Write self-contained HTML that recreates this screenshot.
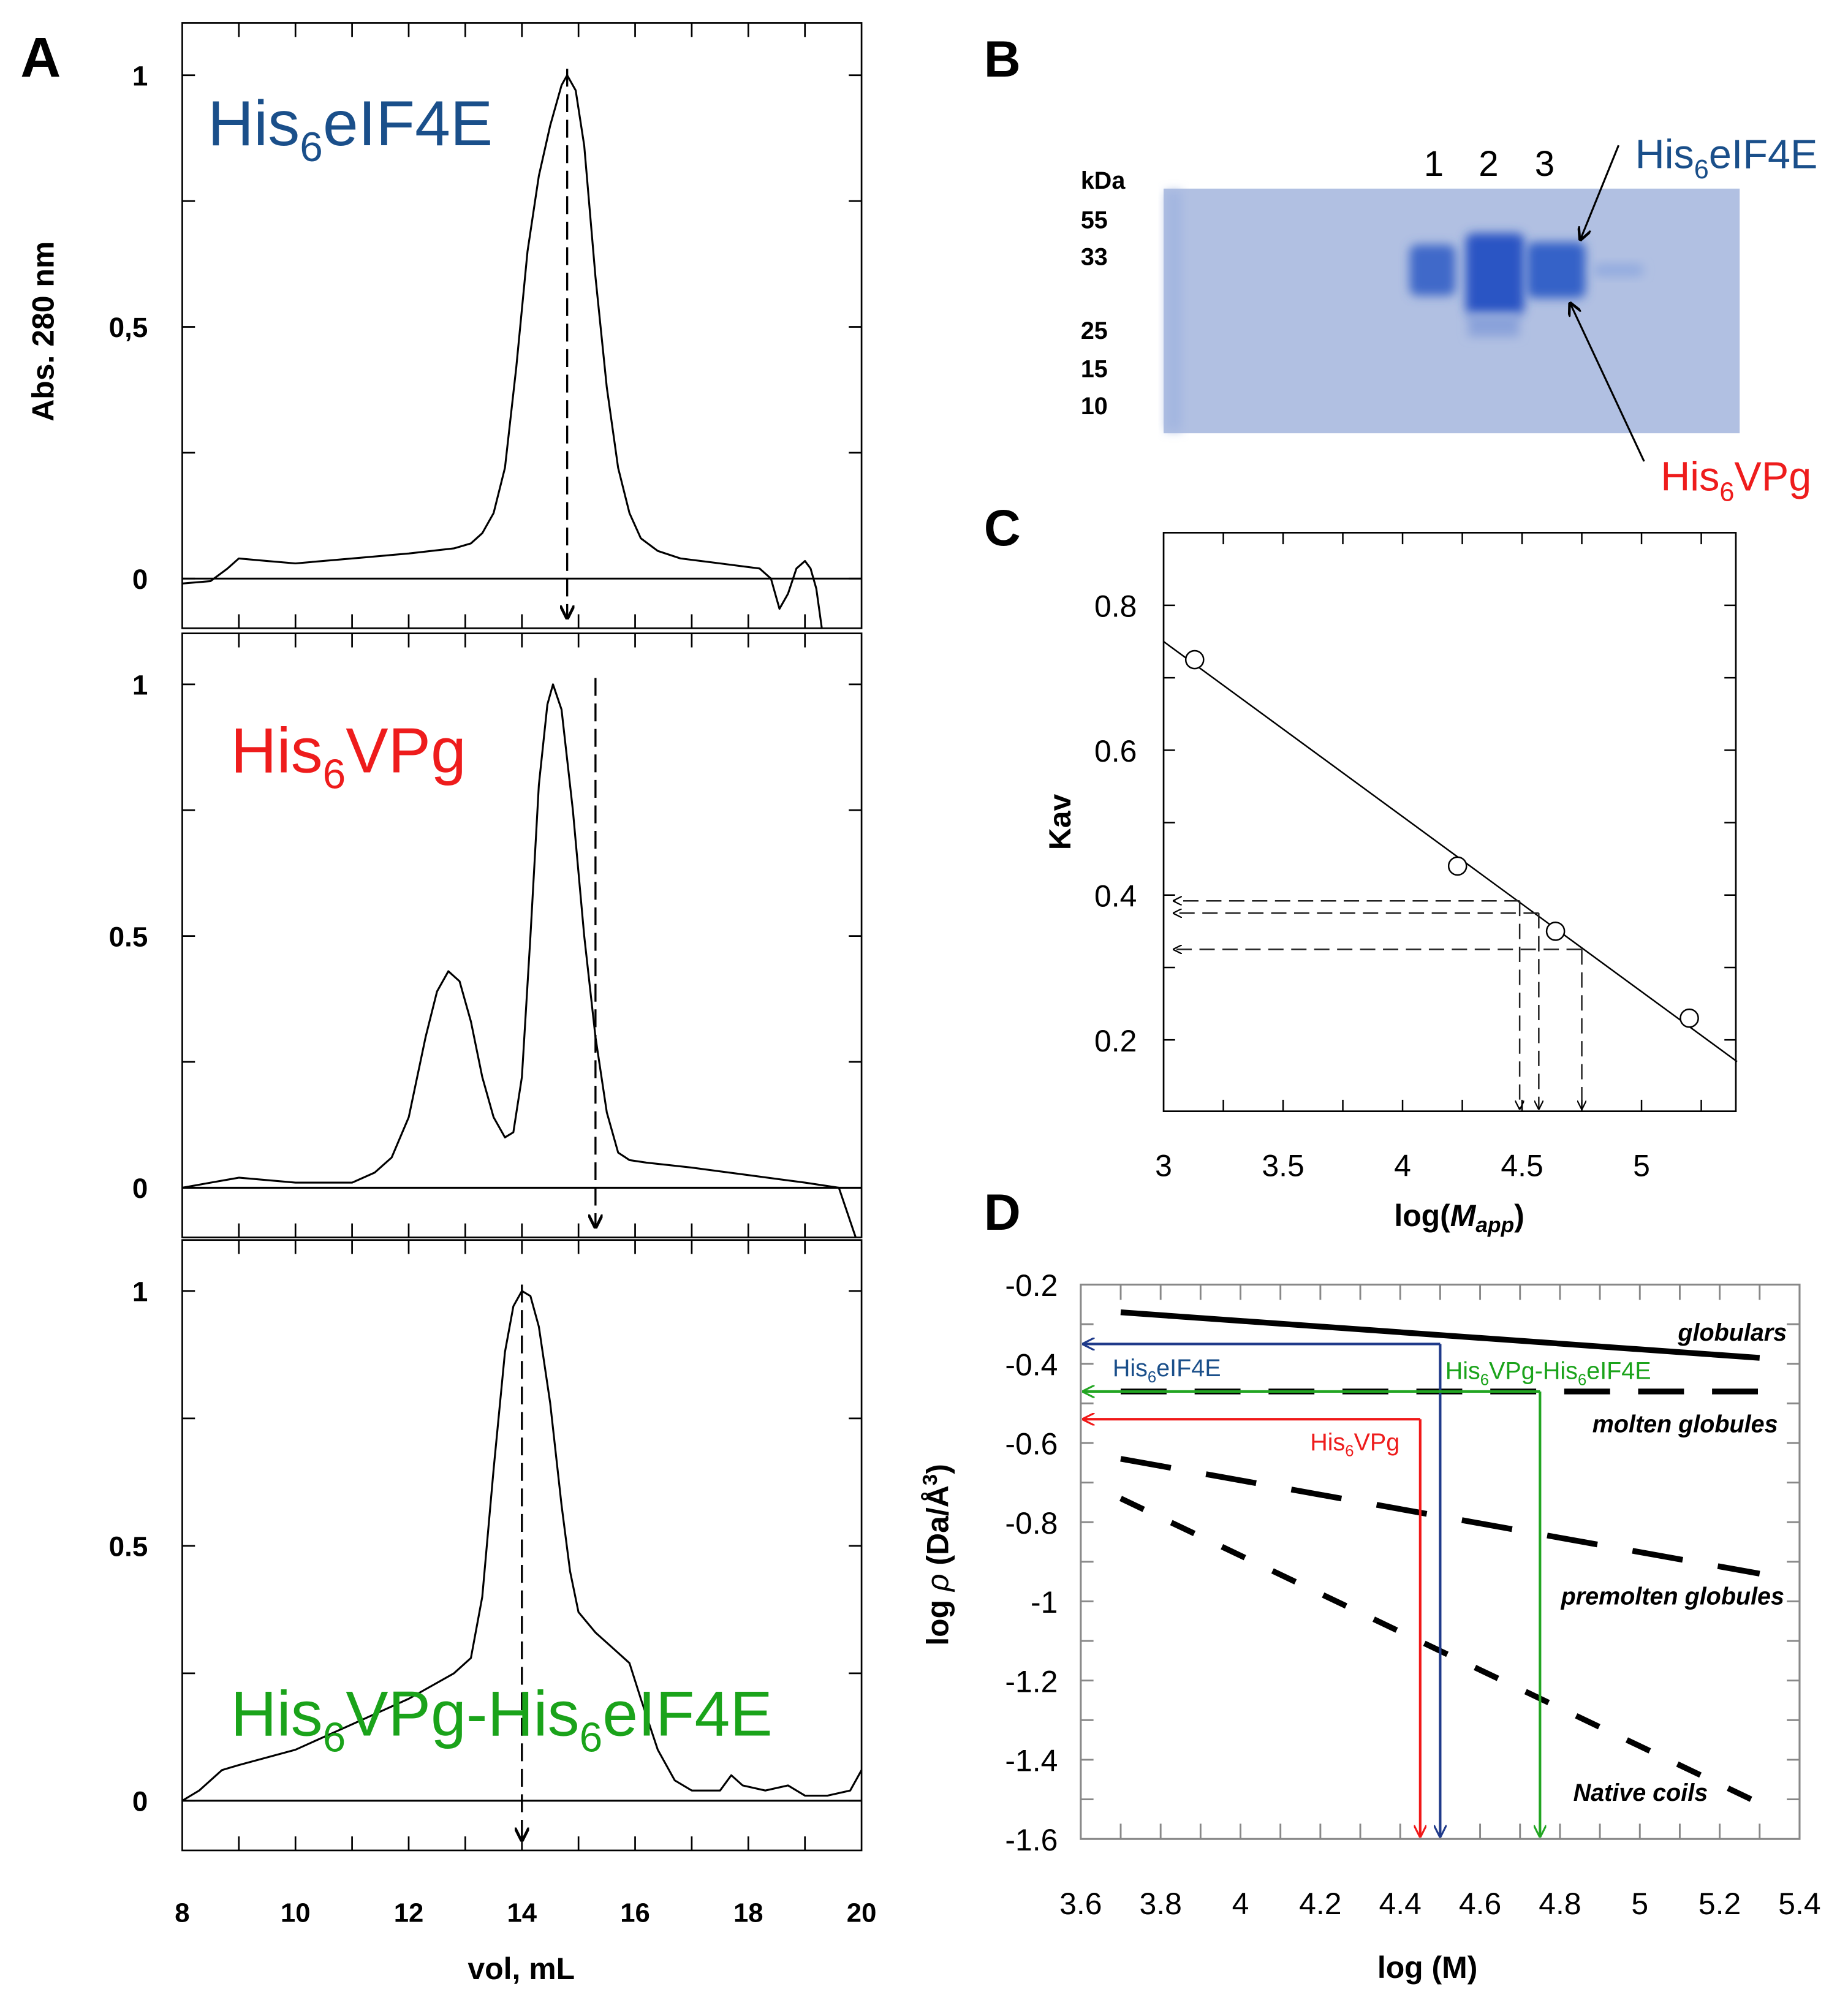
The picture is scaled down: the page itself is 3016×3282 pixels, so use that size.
<!DOCTYPE html>
<html><head><meta charset="utf-8"><style>
html,body{margin:0;padding:0;background:#fff}
svg{display:block}
text{font-family:"Liberation Sans",sans-serif}
</style></head><body>
<svg id="fig" width="3016" height="3282" viewBox="0 0 1450 1578" preserveAspectRatio="none" xmlns="http://www.w3.org/2000/svg">
<defs>
<filter id="blur" x="-50%" y="-50%" width="200%" height="200%"><feGaussianBlur stdDeviation="4"/></filter>
<marker id="ah" viewBox="0 0 10 10" refX="9" refY="5" markerWidth="6" markerHeight="6" orient="auto"><path d="M0,0 L10,5 L0,10" fill="none" stroke="#000" stroke-width="1.5"/></marker>
<marker id="ahb" viewBox="0 0 10 10" refX="9" refY="5" markerWidth="5" markerHeight="5" orient="auto"><path d="M0,0 L10,5 L0,10" fill="none" stroke="#1f3a8a" stroke-width="1.5"/></marker>
<marker id="ahg" viewBox="0 0 10 10" refX="9" refY="5" markerWidth="5" markerHeight="5" orient="auto"><path d="M0,0 L10,5 L0,10" fill="none" stroke="#22a522" stroke-width="1.5"/></marker>
<marker id="ahr" viewBox="0 0 10 10" refX="9" refY="5" markerWidth="5" markerHeight="5" orient="auto"><path d="M0,0 L10,5 L0,10" fill="none" stroke="#f01818" stroke-width="1.5"/></marker>
<marker id="ahf" viewBox="0 0 10 10" refX="9" refY="5" markerWidth="7" markerHeight="7" orient="auto"><path d="M0,0 L10,5 L0,10" fill="none" stroke="#000" stroke-width="2"/></marker>
</defs>
<g id="A"></g><g id="B"></g><g id="C"></g><g id="D"></g>
</svg>
<script>
// ---- Panel A data ----
const volTicks = [8,10,12,14,16,18,20];
const eifVol = [8,8.5,8.8,9,9.5,10,11,12,12.8,13.1,13.3,13.5,13.7,13.9,14.1,14.3,14.5,14.7,14.8,14.95,15.1,15.3,15.5,15.7,15.9,16.1,16.4,16.8,17.5,18.2,18.4,18.55,18.7,18.85,19.0,19.1,19.2,19.3];
const eifAbs = [-0.01,-0.005,0.02,0.04,0.035,0.03,0.04,0.05,0.06,0.07,0.09,0.13,0.22,0.42,0.65,0.8,0.9,0.98,1.0,0.97,0.86,0.6,0.38,0.22,0.13,0.08,0.055,0.04,0.03,0.02,0.0,-0.06,-0.03,0.02,0.035,0.02,-0.02,-0.1];
const vpgVol = [8,8.5,9,10,11,11.4,11.7,12.0,12.3,12.5,12.7,12.9,13.1,13.3,13.5,13.7,13.85,14.0,14.15,14.3,14.45,14.55,14.7,14.9,15.1,15.3,15.5,15.7,15.9,16.2,17,18,19,19.6,19.9];
const vpgAbs = [0.0,0.01,0.02,0.01,0.01,0.03,0.06,0.14,0.3,0.39,0.43,0.41,0.33,0.22,0.14,0.1,0.11,0.22,0.5,0.8,0.96,1.0,0.95,0.75,0.5,0.3,0.15,0.07,0.055,0.05,0.04,0.025,0.01,0.0,-0.1];
const cpxVol = [8,8.3,8.7,9,10,11,12,12.8,13.1,13.3,13.5,13.7,13.85,14.0,14.15,14.3,14.5,14.7,14.85,15.0,15.3,15.6,15.9,16.1,16.4,16.7,17,17.5,17.7,17.9,18.3,18.7,19,19.4,19.8,20];
const cpxAbs = [0,0.02,0.06,0.07,0.1,0.15,0.2,0.25,0.28,0.4,0.65,0.88,0.97,1.0,0.99,0.93,0.78,0.58,0.45,0.37,0.33,0.3,0.27,0.2,0.1,0.04,0.02,0.02,0.05,0.03,0.02,0.03,0.01,0.01,0.02,0.06];
const peakVol = [14.8,15.3,14.0];
// ---- Panel C data ----
const kavTicks = [0.2,0.4,0.6,0.8];
const logTicksC = [3,3.5,4,4.5,5];
const stdLogM = [3.13,4.23,4.64,5.2];
const stdKav = [0.725,0.44,0.35,0.23];
const fitX = [3.0,5.4];
const fitY = [0.75,0.17];
const sampLogM = [4.49,4.57,4.75];
const sampKav = [0.392,0.375,0.325];
// ---- Panel D data ----
const logMTicks = [3.6,3.8,4,4.2,4.4,4.6,4.8,5,5.2,5.4];
const rhoTicks = [-0.2,-0.4,-0.6,-0.8,-1,-1.2,-1.4,-1.6];
const rhoTickLabels = ["-0.2","-0.4","-0.6","-0.8","-1","-1.2","-1.4","-1.6"];
const globX=[3.7,5.3], globY=[-0.27,-0.385];
const moltX=[3.7,5.3], moltY=[-0.47,-0.47];
const premX=[3.7,5.3], premY=[-0.64,-0.93];
const coilX=[3.7,5.3], coilY=[-0.74,-1.51];
const protNames=["His6eIF4E","His6VPg-His6eIF4E","His6VPg"];
const protLogM=[4.5,4.75,4.45];
const protRho=[-0.35,-0.47,-0.54];

const NS="http://www.w3.org/2000/svg";
function mk(parent,tag,attrs,txt){const e=document.createElementNS(NS,tag);for(const k in attrs)e.setAttribute(k,attrs[k]);if(txt!==undefined)e.textContent=txt;parent.appendChild(e);return e;}

// ===== Panel A =====
const A=document.getElementById('A');


const t=mk(A,'text',{x:16,y:60,'font-size':44,'font-weight':'bold'},'A');


const ax0=143,ax1=676;
const xs=v=>ax0+(v-8)/12*(ax1-ax0);
const panels=[
 {top:18,bot:493,y1:59,y0:454,vol:eifVol,abs:eifAbs,name:'eif4e',half:'0,5'},
 {top:497,bot:971,y1:537,y0:932,vol:vpgVol,abs:vpgAbs,name:'vpg',half:'0.5'},
 {top:973,bot:1452,y1:1013,y0:1413,vol:cpxVol,abs:cpxAbs,name:'complex',half:'0.5'}];
panels.forEach((p,i)=>{
  const g=mk(A,'g',{});
  
  
  const ys=a=>p.y0+(p.y1-p.y0)*a;
  const fr=mk(g,'rect',{x:ax0,y:p.top,width:ax1-ax0,height:p.bot-p.top,fill:'none',stroke:'#000','stroke-width':1.3});
  
  
  for(let v=9;v<20;v++){mk(g,'line',{x1:xs(v),x2:xs(v),y1:p.top,y2:p.top+11,stroke:'#000','stroke-width':1.3});mk(g,'line',{x1:xs(v),x2:xs(v),y1:p.bot,y2:p.bot-11,stroke:'#000','stroke-width':1.3});}
  [0,0.25,0.5,0.75,1].forEach(a=>{mk(g,'line',{x1:ax0,x2:ax0+10,y1:ys(a),y2:ys(a),stroke:'#000','stroke-width':1.3});mk(g,'line',{x1:ax1,x2:ax1-10,y1:ys(a),y2:ys(a),stroke:'#000','stroke-width':1.3});});
  [[1,'1'],[0.5,p.half],[0,'0']].forEach(([a,l])=>{const tt=mk(g,'text',{x:116,y:ys(a)+8,'font-size':22,'font-weight':'bold','text-anchor':'end'},l);});
  mk(g,'line',{x1:ax0,x2:ax1,y1:ys(0),y2:ys(0),stroke:'#000','stroke-width':1.5});
  let d='';p.vol.forEach((v,k)=>{d+=(k?'L':'M')+xs(v).toFixed(1)+','+ys(p.abs[k]).toFixed(1);});
  const c=mk(g,'path',{d:d,fill:'none',stroke:'#000','stroke-width':1.5,'stroke-linejoin':'round'});
  
  
  const dl=mk(g,'line',{x1:xs(peakVol[i]),x2:xs(peakVol[i]),y1:p.y1-5,y2:p.bot-8,stroke:'#000','stroke-width':1.6,'stroke-dasharray':'14,6','marker-end':'url(#ahf)'});
  
  
});
const yt=mk(A,'text',{x:0,y:0,'font-size':24,'font-weight':'bold','text-anchor':'middle',transform:'translate(42,260) rotate(-90)'},'Abs. 280 nm');


volTicks.forEach(v=>{const tt=mk(A,'text',{x:xs(v),y:1508,'font-size':21,'font-weight':'bold','text-anchor':'middle'},v);});
const xt=mk(A,'text',{x:409,y:1553,'font-size':24,'font-weight':'bold','text-anchor':'middle'},'vol, mL');


function subLabel(parent,x,y,size,color,parts,name){
  const tx=mk(parent,'text',{x:x,y:y,'font-size':size,fill:color});
  
  
  parts.forEach(pt=>{if(pt.sub){mk(tx,'tspan',{dy:size*0.25,'font-size':size*0.65},pt.t);}else{mk(tx,'tspan',{dy:pt.back?-size*0.25:0},pt.t);}});
  return tx;
}
subLabel(A,163,114,50,'#1a4f8a',[{t:'His'},{t:'6',sub:1},{t:'eIF4E',back:1}],'eif4e-title');
subLabel(A,181,606,50,'#ee1c1c',[{t:'His'},{t:'6',sub:1},{t:'VPg',back:1}],'vpg-title');
subLabel(A,181,1362,50,'#1aa31a',[{t:'His'},{t:'6',sub:1},{t:'VPg-His',back:1},{t:'6',sub:1},{t:'eIF4E',back:1}],'complex-title');

// ===== Panel B =====
const B=document.getElementById('B');


const bl=mk(B,'text',{x:772,y:60,'font-size':40,'font-weight':'bold'},'B');


const gel=mk(B,'rect',{x:913,y:148,width:452,height:192,fill:'#b1c0e2'});


mk(B,'rect',{x:915,y:150,width:12,height:188,fill:'#a3b6e0',filter:'url(#blur)'});
const bands=[[1106,192,36,40,'#3f69c9'],[1150,183,46,64,'#2a55c4'],[1198,190,46,44,'#3562c8'],[1250,207,40,10,'#93abdf']];
bands.forEach(b=>{const r=mk(B,'rect',{x:b[0],y:b[1],width:b[2],height:b[3],rx:6,fill:b[4],filter:'url(#blur)'});});
mk(B,'rect',{x:1152,y:246,width:40,height:18,fill:'#8aa2da',filter:'url(#blur)'});
[['kDa',148],['55',179],['33',208],['25',266],['15',296],['10',325]].forEach(([l,y])=>{const tt=mk(B,'text',{x:848,y:y,'font-size':19,'font-weight':'bold'},l);});
[['1',1125],['2',1168],['3',1212]].forEach(([l,x])=>{const tt=mk(B,'text',{x:x,y:138,'font-size':28,'text-anchor':'middle'},l);});
subLabel(B,1283,132,32,'#1a4f8a',[{t:'His'},{t:'6',sub:1},{t:'eIF4E',back:1}],'gel-eif4e-label');
subLabel(B,1303,385,32,'#ee1c1c',[{t:'His'},{t:'6',sub:1},{t:'VPg',back:1}],'gel-vpg-label');
mk(B,'line',{x1:1270,y1:114,x2:1240,y2:188,stroke:'#000','stroke-width':1.5,'marker-end':'url(#ahf)'});
mk(B,'line',{x1:1290,y1:362,x2:1232,y2:238,stroke:'#000','stroke-width':1.5,'marker-end':'url(#ahf)'});

// ===== Panel C =====
const C=document.getElementById('C');


const cl=mk(C,'text',{x:772,y:428,'font-size':40,'font-weight':'bold'},'C');


const cx0=913,cx1=1362,cy0=418,cy1=872;
const cxs=v=>913+(v-3)*187.5;
const cys=k=>475+(0.8-k)/0.6*341;
mk(C,'rect',{x:cx0,y:cy0,width:cx1-cx0,height:cy1-cy0,fill:'none',stroke:'#000','stroke-width':1.3});
for(let v=3.25;v<5.4;v+=0.25){mk(C,'line',{x1:cxs(v),x2:cxs(v),y1:cy0,y2:cy0+9,stroke:'#000','stroke-width':1.2});mk(C,'line',{x1:cxs(v),x2:cxs(v),y1:cy1,y2:cy1-9,stroke:'#000','stroke-width':1.2});}
for(let k=0.2;k<0.85;k+=0.1){mk(C,'line',{x1:cx0,x2:cx0+9,y1:cys(k),y2:cys(k),stroke:'#000','stroke-width':1.2});mk(C,'line',{x1:cx1,x2:cx1-9,y1:cys(k),y2:cys(k),stroke:'#000','stroke-width':1.2});}
kavTicks.forEach(k=>{const tt=mk(C,'text',{x:892,y:cys(k)+9,'font-size':24,'text-anchor':'end'},k.toFixed(1));});
logTicksC.forEach(v=>{const tt=mk(C,'text',{x:cxs(v),y:923,'font-size':24,'text-anchor':'middle'},v);});
const kt=mk(C,'text',{x:0,y:0,'font-size':24,'font-weight':'bold','text-anchor':'middle',transform:'translate(840,645) rotate(-90)'},'Kav');


const lm=mk(C,'text',{x:1145,y:962,'font-size':24,'font-weight':'bold','text-anchor':'middle'});


mk(lm,'tspan',{},'log(');mk(lm,'tspan',{'font-style':'italic'},'M');mk(lm,'tspan',{'font-style':'italic','font-size':17,dy:5},'app');mk(lm,'tspan',{dy:-5},')');
const fl=mk(C,'line',{x1:cxs(fitX[0]),y1:cys(fitY[0]),x2:cxs(fitX[1]),y2:cys(fitY[1]),stroke:'#000','stroke-width':1.2});


stdLogM.forEach((v,i)=>{const p=mk(C,'circle',{cx:cxs(v),cy:cys(stdKav[i]),r:7,fill:'#fff',stroke:'#000','stroke-width':1.2});});
sampLogM.forEach((v,i)=>{
 const h=mk(C,'line',{x1:cxs(v),y1:cys(sampKav[i]),x2:cx0+8,y2:cys(sampKav[i]),stroke:'#222','stroke-width':1.2,'stroke-dasharray':'12,6','marker-end':'url(#ah)'});
 
 
 const vv=mk(C,'line',{x1:cxs(v),y1:cys(sampKav[i]),x2:cxs(v),y2:cy1-2,stroke:'#222','stroke-width':1.2,'stroke-dasharray':'12,6','marker-end':'url(#ah)'});
 
 
});

// ===== Panel D =====
const D=document.getElementById('D');


const dlb=mk(D,'text',{x:772,y:965,'font-size':40,'font-weight':'bold'},'D');


const dx0=848,dx1=1412,dy0=1008,dy1=1443;
const dxs=v=>dx0+(v-3.6)/1.8*(dx1-dx0);
const dys=r=>dy0+(-0.2-r)/1.4*(dy1-dy0);
mk(D,'rect',{x:dx0,y:dy0,width:dx1-dx0,height:dy1-dy0,fill:'none',stroke:'#888','stroke-width':1.5});
for(let v=3.7;v<5.35;v+=0.1){mk(D,'line',{x1:dxs(v),x2:dxs(v),y1:dy0,y2:dy0+12,stroke:'#888','stroke-width':1.4});mk(D,'line',{x1:dxs(v),x2:dxs(v),y1:dy1,y2:dy1-12,stroke:'#888','stroke-width':1.4});}
for(let r=-0.3;r>-1.55;r-=0.1){mk(D,'line',{x1:dx0,x2:dx0+10,y1:dys(r),y2:dys(r),stroke:'#888','stroke-width':1.4});mk(D,'line',{x1:dx1,x2:dx1-10,y1:dys(r),y2:dys(r),stroke:'#888','stroke-width':1.4});}
rhoTicks.forEach((r,i)=>{const tt=mk(D,'text',{x:830,y:dys(r)+9,'font-size':24,'text-anchor':'end'},rhoTickLabels[i]);});
logMTicks.forEach(v=>{const tt=mk(D,'text',{x:dxs(v),y:1502,'font-size':24,'text-anchor':'middle'},v);});
const rt=mk(D,'text',{x:0,y:0,'font-size':24,'font-weight':'bold','text-anchor':'middle',transform:'translate(744,1220) rotate(-90)'});


mk(rt,'tspan',{},'log ');mk(rt,'tspan',{'font-style':'italic','font-weight':'normal'},'ρ');mk(rt,'tspan',{},'  (Da/Å');mk(rt,'tspan',{'font-size':16,dy:-9},'3');mk(rt,'tspan',{dy:9},')');
const lt=mk(D,'text',{x:1120,y:1552,'font-size':24,'font-weight':'bold','text-anchor':'middle'},'log (M)');


const refs=[[globX,globY,'none','globulars-line'],[moltX,moltY,'36,22','molten-globules-line'],[premX,premY,'40,28','premolten-globules-line'],[coilX,coilY,'20,24','native-coils-line']];
refs.forEach(r=>{const l=mk(D,'line',{x1:dxs(r[0][0]),y1:dys(r[1][0]),x2:dxs(r[0][1]),y2:dys(r[1][1]),stroke:'#000','stroke-width':4.5,'stroke-dasharray':r[2]});});
[['globulars',1402,1052],['molten globules',1395,1124],['premolten globules',1400,1259],['Native coils',1340,1413]].forEach(([l,x,y])=>{const tt=mk(D,'text',{x:x,y:y,'font-size':19,'font-weight':'bold','font-style':'italic','text-anchor':'end'},l);});
const pcol=['#1f3a8a','#22a522','#f01818'], pm=['ahb','ahg','ahr'];
protLogM.forEach((v,i)=>{
 const d1=mk(D,'path',{d:'M'+dxs(v)+','+dys(protRho[i])+' V'+(dy1-2),fill:'none',stroke:pcol[i],'stroke-width':2,'marker-end':'url(#'+pm[i]+')'});
 
 
 const d2=mk(D,'path',{d:'M'+dxs(v)+','+dys(protRho[i])+' H'+(dx0+2),fill:'none',stroke:pcol[i],'stroke-width':2,'marker-end':'url(#'+pm[i]+')'});
 
 
});
subLabel(D,873,1080,19,'#1a4f8a',[{t:'His'},{t:'6',sub:1},{t:'eIF4E',back:1}],'density-eif4e-label');
subLabel(D,1134,1082,19,'#1aa31a',[{t:'His'},{t:'6',sub:1},{t:'VPg-His',back:1},{t:'6',sub:1},{t:'eIF4E',back:1}],'density-complex-label');
subLabel(D,1028,1138,19,'#ee1c1c',[{t:'His'},{t:'6',sub:1},{t:'VPg',back:1}],'density-vpg-label');
</script>
</body></html>
